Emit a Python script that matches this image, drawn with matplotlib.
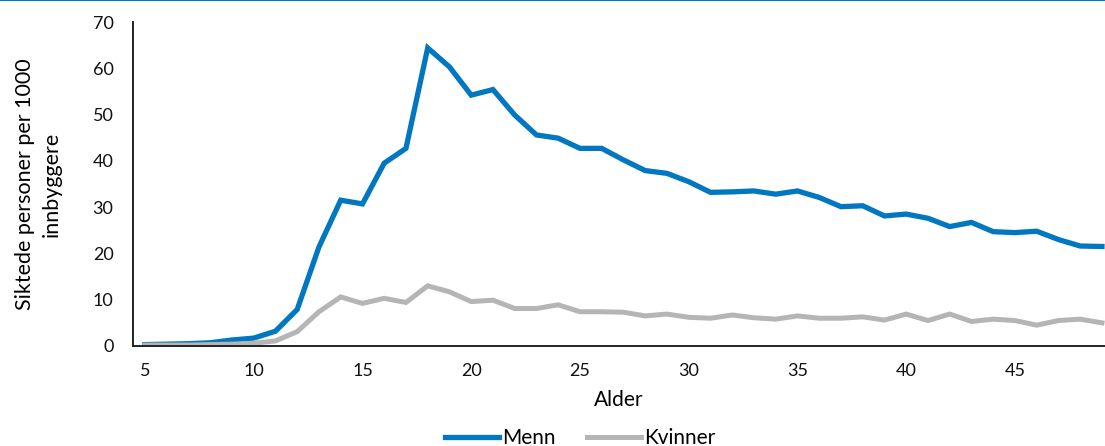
import matplotlib.pyplot as plt
from matplotlib.lines import Line2D

# Alder 5-49
alder = list(range(5, 50))
menn = [0.3, 0.4, 0.5, 0.7, 1.3, 1.7, 3.2, 7.9, 21.4, 31.5, 30.7, 39.5, 42.7, 64.4, 60.3,
        54.2, 55.4, 49.9, 45.6, 44.9, 42.7, 42.7, 40.2, 37.9, 37.3, 35.5, 33.2, 33.3, 33.5,
        32.8, 33.5, 32.1, 30.1, 30.3, 28.1, 28.5, 27.6, 25.8, 26.7, 24.7, 24.5, 24.8, 23.0,
        21.6, 21.5]
kvinner = [0.2, 0.2, 0.2, 0.3, 0.4, 0.6, 1.1, 3.1, 7.4, 10.6, 9.2, 10.3, 9.4, 13.0, 11.7,
           9.6, 9.9, 8.1, 8.1, 8.9, 7.4, 7.4, 7.3, 6.5, 6.9, 6.2, 6.0, 6.7, 6.1, 5.8, 6.5,
           6.0, 6.0, 6.3, 5.6, 6.9, 5.5, 6.9, 5.3, 5.8, 5.5, 4.5, 5.5, 5.8, 5.0]
x_ticks = [5, 10, 15, 20, 25, 30, 35, 40, 45]
y_ticks = [0, 10, 20, 30, 40, 50, 60, 70]

blaa = '#0077c0'
graa = '#b5b5b5'

plt.rcParams['font.family'] = ['Lato', 'DejaVu Sans']

fig = plt.figure(figsize=(11.05, 4.46), dpi=100)
ax = fig.add_axes([133 / 1105, 100 / 446, 972 / 1105, 324 / 446])

ax.plot(alder, menn, color=blaa, lw=3.8, label='Menn', solid_joinstyle='miter')
ax.plot(alder, kvinner, color=graa, lw=3.6, label='Kvinner', solid_joinstyle='miter')

ax.set_xlim(4.45, 49.14)
ax.set_ylim(0, 70)
ax.set_xticks(x_ticks)
ax.set_yticks(y_ticks)
ax.tick_params(length=0, labelsize=13, colors='#111111', pad=12)
ax.tick_params(axis='y', pad=14)

for s in ['top', 'right']:
    ax.spines[s].set_visible(False)
for s in ['left', 'bottom']:
    ax.spines[s].set_color('#222222')
    ax.spines[s].set_linewidth(1.4)

ax.set_xlabel('Alder', fontsize=15, labelpad=8)
ax.set_ylabel('Siktede personer per 1000\ninnbyggere', fontsize=15.5, labelpad=22,
              linespacing=1.45)

fig.legend(handles=ax.get_lines(), loc='center', bbox_to_anchor=(580 / 1105, 8 / 446),
           ncol=2, frameon=False, fontsize=15, handlelength=2.6, handletextpad=0.15,
           columnspacing=1.5, borderpad=0)

# blå linje øverst
fig.add_artist(Line2D([0, 1], [0.999, 0.999], color=blaa, lw=1.5, transform=fig.transFigure))

fig.savefig('out.png', dpi=100)
